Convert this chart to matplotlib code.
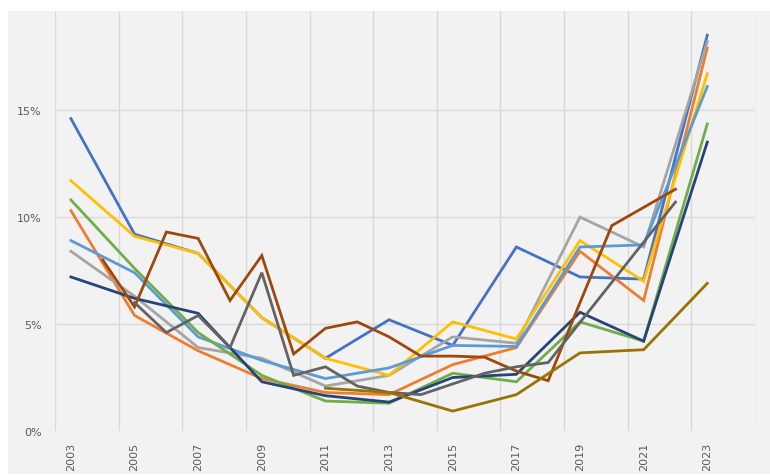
import matplotlib
matplotlib.use("Agg")
import matplotlib.pyplot as plt
import numpy as np
from matplotlib.patches import Rectangle

# data (percent)
years_all = np.arange(2003, 2024)
years_odd = np.arange(2003, 2024, 2)

blue       = [14.6, 9.2, 8.3, 5.3, 3.4, 5.2, 4.0, 8.6, 7.2, 7.1, 18.5]
orange     = [10.3, 5.4, 3.75, 2.45, 1.8, 1.7, 3.1, 3.9, 8.4, 6.1, 17.9]
gray       = [8.4, 6.3, 3.9, 3.4, 2.1, 2.6, 4.4, 4.1, 10.0, 8.6, 18.2]
yellow     = [11.7, 9.1, 8.3, 5.3, 3.4, 2.6, 5.1, 4.3, 8.9, 7.0, 16.7]
light_blue = [8.9, 7.4, 4.4, 3.3, 2.45, 2.95, 4.0, 3.95, 8.6, 8.7, 16.1]
green      = [10.8, 7.6, 4.6, 2.6, 1.4, 1.3, 2.7, 2.3, 5.1, 4.2, 14.35]
dark_blue  = [7.2, 6.2, 5.5, 2.3, 1.65, 1.35, 2.5, 2.65, 5.55, 4.2, 13.5]
brown      = [None, 8.0, 5.8, 9.3, 9.0, 6.1, 8.2, 3.6, 4.8, 5.1, 4.4, 3.5,
              3.5, 3.45, 2.8, 2.35, 6.0, 9.6, 10.45, 11.3, None]
dark_gray  = [None, None, 6.0, 4.6, 5.4, 3.9, 7.4, 2.6, 3.0, 2.1, 1.8, 1.7,
              2.2, 2.7, 3.0, 3.2, None, None, None, 10.7, None]
dark_gold  = [None, None, None, None, 2.0, 1.8, 0.93, 1.7, 3.65, 3.8, 6.9]

series = [
    (years_odd, blue, '#4472C4'),
    (years_odd, orange, '#ED7D31'),
    (years_odd, gray, '#A5A5A5'),
    (years_odd, yellow, '#FFC000'),
    (years_odd, light_blue, '#5B9BD5'),
    (years_odd, green, '#70AD47'),
    (years_odd, dark_blue, '#264478'),
    (years_all, brown, '#9E480E'),
    (years_all, dark_gray, '#636363'),
    (years_odd, dark_gold, '#997300'),
]

bg = '#f2f2f2'
txt = '#595959'

fig = plt.figure(figsize=(7.7, 4.77), dpi=100)
fig.patch.set_facecolor('white')
fig.add_artist(Rectangle((8/770, 2/477), 762/770, 463/477,
                         transform=fig.transFigure, facecolor=bg,
                         edgecolor='none', zorder=-10))

ax = fig.add_axes([55/770, 45/477, 700/770, 420/477])
ax.set_facecolor(bg)

for xs, vals, col in series:
    v = np.array([np.nan if a is None else a for a in vals], dtype=float)
    m = ~np.isnan(v)
    ax.plot(xs[m], v[m], color=col, lw=2.0, solid_joinstyle='miter')

ax.set_xlim(2002.5, 2024.5)
ax.set_ylim(0, 19.63)

ax.set_xticks(years_odd)
ax.set_xticklabels([str(y) for y in years_odd], rotation=90)
ax.set_xticks(np.arange(2002.5, 2025, 2), minor=True)
ax.set_yticks([0, 5, 10, 15])
ax.set_yticklabels(['0%', '5%', '10%', '15%'])

ax.tick_params(axis='both', which='both', length=0, labelsize=8, colors=txt)
ax.tick_params(axis='x', pad=8)
ax.tick_params(axis='y', pad=9.5)

ax.grid(False)
ax.xaxis.grid(True, which='minor', color='#d9d9d9', lw=1)
ax.yaxis.grid(True, which='major', color='#d9d9d9', lw=1)
ax.set_axisbelow(True)
for s in ax.spines.values():
    s.set_visible(False)

plt.savefig('out.png', dpi=100, facecolor=fig.get_facecolor())
